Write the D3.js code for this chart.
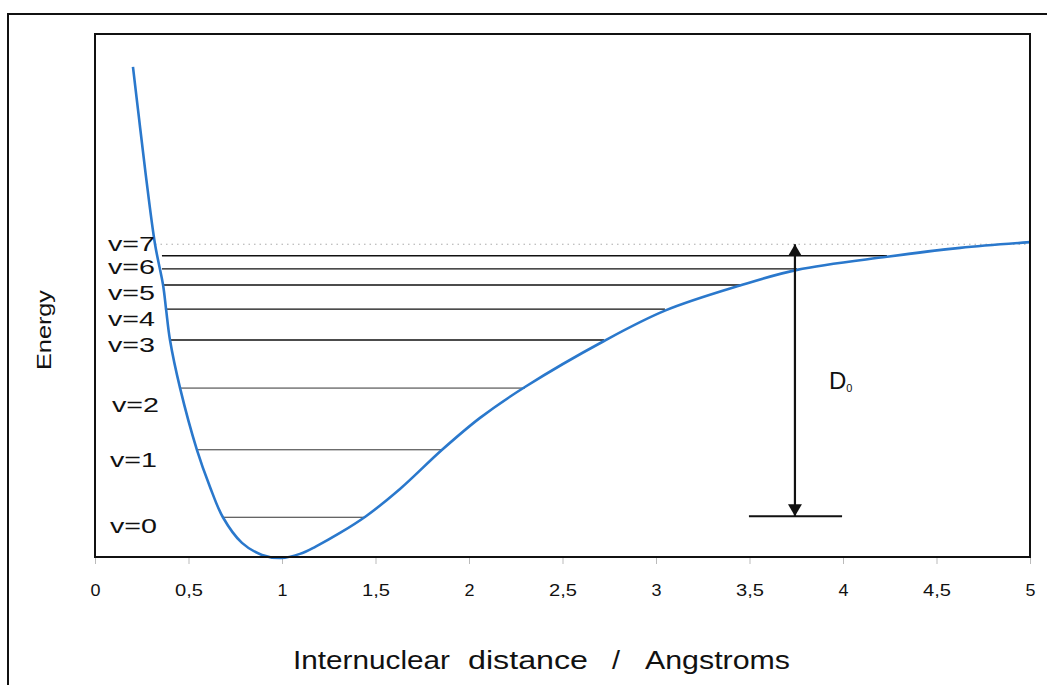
<!DOCTYPE html>
<html>
<head>
<meta charset="utf-8">
<script src="https://cdn.jsdelivr.net/npm/d3@7"></script>
<style>
  html, body { margin: 0; padding: 0; background: #fff; }
  svg { display: block; }
  text { font-family: "Liberation Sans", Arial, sans-serif; fill: #111; }
</style>
</head>
<body>
<svg id="chart" width="1047" height="685"></svg>
<script>
// ---- data (x in Angstroms, energy in arbitrary units) ----
const curveX = [0.203, 0.235, 0.27, 0.321, 0.364, 0.380, 0.401, 0.455, 0.545, 0.615, 0.684, 0.786, 0.893, 0.995, 1.096, 1.180, 1.310, 1.449, 1.631, 1.856, 2.059, 2.299, 2.722, 3.048, 3.449, 3.754, 4.235, 4.626, 5.0];
const curveE = [9.37, 8.40, 7.35, 5.98, 5.20, 4.74, 4.15, 3.23, 2.05, 1.34, 0.76, 0.27, 0.04, -0.02, 0.06, 0.20, 0.46, 0.78, 1.30, 2.05, 2.66, 3.25, 4.13, 4.71, 5.19, 5.49, 5.74, 5.91, 6.02];

const levelNames = ["v=0", "v=1", "v=2", "v=3", "v=4", "v=5", "v=6", "", "v=7"];
const levelE     = [0.76, 2.05, 3.23, 4.15, 4.74, 5.20, 5.51, 5.76, 5.98];
const levelX0    = [0.684, 0.545, 0.455, 0.401, 0.374, 0.364, 0.358, 0.358, 0.321];
const levelX1    = [1.449, 1.856, 2.299, 2.722, 3.048, 3.449, 3.754, 4.235, 5.0];
const labelE     = [0.59, 1.85, 2.91, 4.06, 4.55, 5.04, 5.55, null, 5.98];

const xTicks = [0, 0.5, 1, 1.5, 2, 2.5, 3, 3.5, 4, 4.5, 5];
const xTickLabels = ["0", "0,5", "1", "1,5", "2", "2,5", "3", "3,5", "4", "4,5", "5"];

const d0X = 3.743, d0Top = 5.98, d0Bottom = 0.78;
const d0BarX = [3.497, 3.995];

// ---- layout ----
const svg = d3.select("#chart");
const L = 95, R = 1030, T = 34, B = 557;
const x = d3.scaleLinear().domain([0, 5]).range([L, R]);
const y = d3.scaleLinear().domain([0, 10]).range([B, T]);

// outer frame (top + left)
svg.append("path").attr("d", `M8,685 L8,14 L1047,14`).attr("fill", "none")
   .attr("stroke", "#111").attr("stroke-width", 2);

// defs for arrowheads
const defs = svg.append("defs");
defs.append("marker").attr("id", "arr").attr("viewBox", "0 0 12 14")
  .attr("refX", 12).attr("refY", 7).attr("markerWidth", 12).attr("markerHeight", 14)
  .attr("markerUnits", "userSpaceOnUse").attr("orient", "auto-start-reverse")
  .append("path").attr("d", "M0,0 L12,7 L0,14 Z").attr("fill", "#111");

// vibrational levels (last = dotted dissociation line)
const gl = svg.append("g");
levelE.forEach((e, i) => {
  const dotted = (i === levelE.length - 1);
  gl.append("line")
    .attr("x1", x(levelX0[i])).attr("x2", x(levelX1[i]))
    .attr("y1", y(e)).attr("y2", y(e))
    .attr("stroke", dotted ? "#aaa" : (i < 3 ? "#333" : "#111"))
    .attr("stroke-width", dotted ? 1 : (i < 3 ? 1 : 1.4))
    .attr("stroke-dasharray", dotted ? "1.5,4" : null);
});

// x-axis ticks (light grey, below axis)
const xAxis = d3.axisBottom(x).tickValues(xTicks).tickSize(7)
  .tickFormat((d, i) => xTickLabels[i]);
const ga = svg.append("g").attr("transform", `translate(0,${B})`).call(xAxis);
ga.attr("font-size", 17).attr("font-family", "Liberation Sans, Arial, sans-serif");
ga.select(".domain").remove();
ga.selectAll(".tick line").attr("stroke", "#bbb").attr("stroke-width", 1);
ga.selectAll(".tick text").attr("dy", 0).attr("y", 39)
  .attr("font-size", 17).style("font-size", "17px").attr("fill", "#111")
  .attr("textLength", (d, i) => xTickLabels[i].length > 1 ? 28 : 10)
  .attr("lengthAdjust", "spacingAndGlyphs");

// Morse curve
const line = d3.line().x((d, i) => x(curveX[i])).y((d, i) => y(curveE[i]))
  .curve(d3.curveCatmullRom.alpha(0.5));
svg.append("path").datum(curveE).attr("d", line).attr("fill", "none")
  .attr("stroke", "#2a78cc").attr("stroke-width", 2.6).attr("stroke-linejoin", "round");

// plot frame
svg.append("rect").attr("x", L).attr("y", T).attr("width", R - L).attr("height", B - T)
  .attr("fill", "none").attr("stroke", "#111").attr("stroke-width", 2);

// level labels
const labelX = [110, 110, 112, 108, 108, 108, 108, null, 108];
levelNames.forEach((n, i) => {
  if (!n) return;
  svg.append("text").attr("x", labelX[i]).attr("y", y(labelE[i]) + 7)
    .attr("textLength", 47).attr("lengthAdjust", "spacingAndGlyphs")
    .style("font-size", "20px").text(n);
});

// D0 arrow
svg.append("line").attr("x1", x(d0X)).attr("x2", x(d0X))
  .attr("y1", y(d0Bottom)).attr("y2", y(d0Top))
  .attr("stroke", "#111").attr("stroke-width", 2.2)
  .attr("marker-start", "url(#arr)").attr("marker-end", "url(#arr)");
svg.append("line").attr("x1", x(d0BarX[0])).attr("x2", x(d0BarX[1]))
  .attr("y1", y(d0Bottom)).attr("y2", y(d0Bottom))
  .attr("stroke", "#111").attr("stroke-width", 2);
const dt = svg.append("text").attr("x", 829).attr("y", 389).style("font-size", "24px");
dt.append("tspan").text("D");
dt.append("tspan").attr("dy", 3).style("font-size", "11px").text("0");

// axis titles
const words = [["Internuclear", 293, 157], ["distance", 468, 120], ["/", 612, 8], ["Angstroms", 645, 145]];
words.forEach(w => {
  svg.append("text").attr("x", w[1]).attr("y", 669).attr("textLength", w[2])
    .attr("lengthAdjust", "spacingAndGlyphs").style("font-size", "25px").text(w[0]);
});
svg.append("text").attr("transform", "translate(51,370) rotate(-90)")
  .attr("textLength", 80).attr("lengthAdjust", "spacingAndGlyphs")
  .style("font-size", "20px").text("Energy");
</script>
</body>
</html>
